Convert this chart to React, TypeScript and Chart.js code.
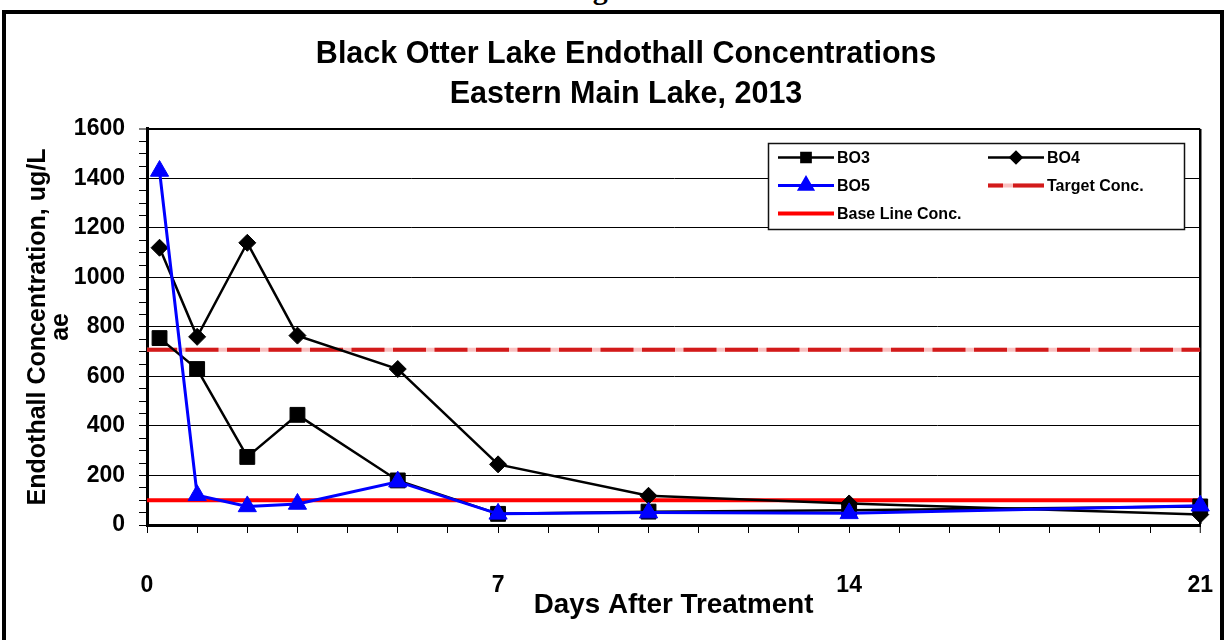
import React, { useEffect, useRef } from 'react';
import { Chart, registerables } from 'chart.js';
import { drawPoint } from 'chart.js/helpers';

Chart.register(...registerables);

const FONT = "'Liberation Sans', Arial, Helvetica, sans-serif";

// ---- data ----
const days = [0.25, 1, 2, 3, 5, 7, 10, 14, 21];
const bo3 = [755, 630, 275, 445, 180, 45, 54, 60, 75];
const bo4 = [1120, 760, 1140, 765, 630, 245, 118, 87, 42];
const bo5 = [1430, 120, 75, 85, 175, 45, 50, 47, 78];
const refDays = [0, 21];
const targetConc = [708, 708];
const baseLineConc = [100, 100];

const titleLines = ['Black Otter Lake Endothall Concentrations', 'Eastern Main Lake, 2013'];
const xTitle = 'Days After Treatment';
const yTitle = ['Endothall Concentration, ug/L', 'ae'];
const xLabelDays = [0, 7, 14, 21];
const yLabelStep = 200;
const legendOrder = ['BO3', 'BO4', 'BO5', 'Target Conc.', 'Base Line Conc.'];

const pts = (xs: number[], ys: number[]) => xs.map((x, i) => ({ x, y: ys[i] }));

const boxLegend = {
  id: 'boxLegend',
  afterDatasetsDraw(chart: any) {
    const { ctx, chartArea } = chart;
    const w = 416;
    const h = 86;
    const x0 = Math.round(chartArea.right - 16 - w);
    const y0 = Math.round(chartArea.top + 14);
    ctx.save();
    ctx.fillStyle = '#ffffff';
    ctx.fillRect(x0, y0, w, h);
    ctx.strokeStyle = '#111';
    ctx.lineWidth = 1.5;
    ctx.strokeRect(x0 + 0.5, y0 + 0.5, w, h);
    legendOrder.forEach((label, i) => {
      const ds: any = chart.data.datasets.find((d: any) => d.label === label);
      if (!ds) return;
      const col = i % 2;
      const row = Math.floor(i / 2);
      const sx = x0 + 10 + col * 210;
      const sy = y0 + 14.5 + row * 28;
      const len = 56;
      ctx.setLineDash([]);
      if (ds.legendUnder) {
        ctx.strokeStyle = ds.legendUnder;
        ctx.lineWidth = ds.borderWidth;
        ctx.beginPath();
        ctx.moveTo(sx, sy);
        ctx.lineTo(sx + len, sy);
        ctx.stroke();
        ctx.setLineDash([15, 10, 31]);
      }
      ctx.strokeStyle = ds.borderColor;
      ctx.lineWidth = ds.borderWidth;
      ctx.beginPath();
      ctx.moveTo(sx, sy);
      ctx.lineTo(sx + len, sy);
      ctx.stroke();
      ctx.setLineDash([]);
      if (ds.legendRadius) {
        ctx.fillStyle = ds.pointBackgroundColor;
        ctx.strokeStyle = ds.pointBorderColor;
        drawPoint(ctx, { pointStyle: ds.pointStyle, rotation: 0, radius: ds.legendRadius, borderWidth: 1 }, sx + len / 2, sy);
      }
      ctx.fillStyle = '#000';
      ctx.font = `bold 16px ${FONT}`;
      ctx.textAlign = 'left';
      ctx.textBaseline = 'middle';
      ctx.fillText(label, sx + len + 3, sy + 1);
    });
    ctx.restore();
  },
};

export default function App() {
  const canvasRef = useRef<HTMLCanvasElement>(null);

  useEffect(() => {
    const canvas = canvasRef.current!;
    const chart = new Chart(canvas, {
      type: 'line',
      data: {
        datasets: [
          {
            label: 'BO3',
            data: pts(days, bo3),
            borderColor: '#000000',
            backgroundColor: '#000000',
            pointBackgroundColor: '#000000',
            pointBorderColor: '#000000',
            borderWidth: 2.5,
            pointStyle: 'rect',
            pointRadius: 10.5,
            pointBorderWidth: 1,
            legendRadius: 6.5,
            order: 2,
            clip: false,
          } as any,
          {
            label: 'BO4',
            data: pts(days, bo4),
            borderColor: '#000000',
            backgroundColor: '#000000',
            pointBackgroundColor: '#000000',
            pointBorderColor: '#000000',
            borderWidth: 2.5,
            pointStyle: 'rectRot',
            pointRadius: 8.5,
            pointBorderWidth: 1,
            legendRadius: 5.5,
            order: 1,
            clip: false,
          } as any,
          {
            label: 'BO5',
            data: pts(days, bo5),
            borderColor: '#0000ff',
            backgroundColor: '#0000ff',
            pointBackgroundColor: '#0000ff',
            pointBorderColor: '#0000ff',
            borderWidth: 3,
            pointStyle: 'triangle',
            pointRadius: 10.5,
            pointBorderWidth: 1,
            legendRadius: 7.5,
            order: 0,
            clip: false,
          } as any,
          {
            label: 'Target Conc.',
            data: pts(refDays, targetConc),
            borderColor: '#d21a1a',
            borderWidth: 4,
            borderDash: [33, 8.5],
            borderDashOffset: 3,
            pointRadius: 0,
            legendUnder: '#f9c0c0',
            order: 4,
          } as any,
          {
            label: 'Target Conc. ',
            data: pts(refDays, targetConc),
            borderColor: '#f9c0c0',
            borderWidth: 4,
            pointRadius: 0,
            order: 5,
          } as any,
          {
            label: 'Base Line Conc.',
            data: pts(refDays, baseLineConc),
            borderColor: '#ff0000',
            borderWidth: 4,
            pointRadius: 0,
            order: 3,
          } as any,
        ],
      },
      options: {
        responsive: false,
        maintainAspectRatio: false,
        animation: false,
        devicePixelRatio: 1,
        layout: { padding: 0 },
        elements: { line: { tension: 0 } },
        plugins: {
          legend: { display: false },
          tooltip: { enabled: false },
          title: {
            display: true,
            text: titleLines,
            color: '#000',
            font: { family: FONT, size: 30.5, weight: 'bold', lineHeight: 1.31 },
            padding: { top: 35, bottom: 14 },
          },
        },
        scales: {
          x: {
            type: 'linear',
            min: 0,
            max: 21,
            ticks: {
              stepSize: 1,
              autoSkip: false,
              maxRotation: 0,
              padding: 39,
              color: '#000',
              font: { family: FONT, size: 23, weight: 'bold' },
              callback: (v: any) => (xLabelDays.includes(Number(v)) ? String(v) : ''),
            },
            grid: {
              color: (c: any) => (c.tick && c.tick.value === 21 ? '#000' : 'rgba(0,0,0,0)'),
              lineWidth: (c: any) => (c.tick && c.tick.value === 21 ? 2.5 : 1),
              tickColor: '#000',
              tickLength: 8,
              tickWidth: 1,
            },
            border: { color: '#000', width: 3 },
            title: {
              display: true,
              text: xTitle,
              color: '#000',
              font: { family: FONT, size: 27.8, weight: 'bold' },
              padding: { top: 0, bottom: 18 },
            },
            afterFit: (s: any) => {
              s.height = 115;
            },
          },
          y: {
            type: 'linear',
            min: 0,
            max: 1600,
            ticks: {
              stepSize: 50,
              autoSkip: false,
              padding: 14,
              color: '#000',
              font: { family: FONT, size: 23, weight: 'bold' },
              callback: (v: any) => (Number(v) % yLabelStep === 0 ? String(v) : ''),
            },
            grid: {
              color: (c: any) => (c.tick && c.tick.value % yLabelStep === 0 ? '#000' : 'rgba(0,0,0,0)'),
              lineWidth: (c: any) => (c.tick && c.tick.value === 1600 ? 2 : 1),
              tickColor: '#000',
              tickLength: 8,
              tickWidth: 1,
            },
            border: { color: '#000', width: 3 },
            title: {
              display: true,
              text: yTitle,
              color: '#000',
              font: { family: FONT, size: 25, weight: 'bold', lineHeight: 0.9 },
              padding: { top: 27, bottom: 0 },
            },
            afterFit: (s: any) => {
              s.width = 147;
            },
          },
          y2: {
            type: 'linear',
            position: 'right',
            display: true,
            grid: { display: false, drawTicks: false },
            border: { display: false },
            ticks: { display: false },
            afterFit: (s: any) => {
              s.width = 47;
            },
          },
        },
      },
      plugins: [boxLegend],
    } as any);
    return () => chart.destroy();
  }, []);

  return (
    <div
      style={{
        position: 'absolute',
        left: 0,
        top: 0,
        width: 1227,
        height: 640,
        overflow: 'hidden',
        background: '#fff',
      }}
    >
      <div
        style={{
          position: 'absolute',
          left: 566,
          top: -26,
          fontFamily: "'Liberation Serif', 'Times New Roman', serif",
          fontWeight: 'bold',
          fontSize: 30,
          lineHeight: '30px',
          whiteSpace: 'nowrap',
          color: '#000',
        }}
      >
        Figure
      </div>
      <canvas
        ref={canvasRef}
        width={1252}
        height={640}
        style={{ position: 'absolute', left: 0, top: 0, width: 1252, height: 640 }}
      />
      <div
        style={{
          position: 'absolute',
          left: 2,
          top: 10,
          width: 1222,
          height: 700,
          border: '4px solid #000',
          boxSizing: 'border-box',
          pointerEvents: 'none',
        }}
      />
    </div>
  );
}
